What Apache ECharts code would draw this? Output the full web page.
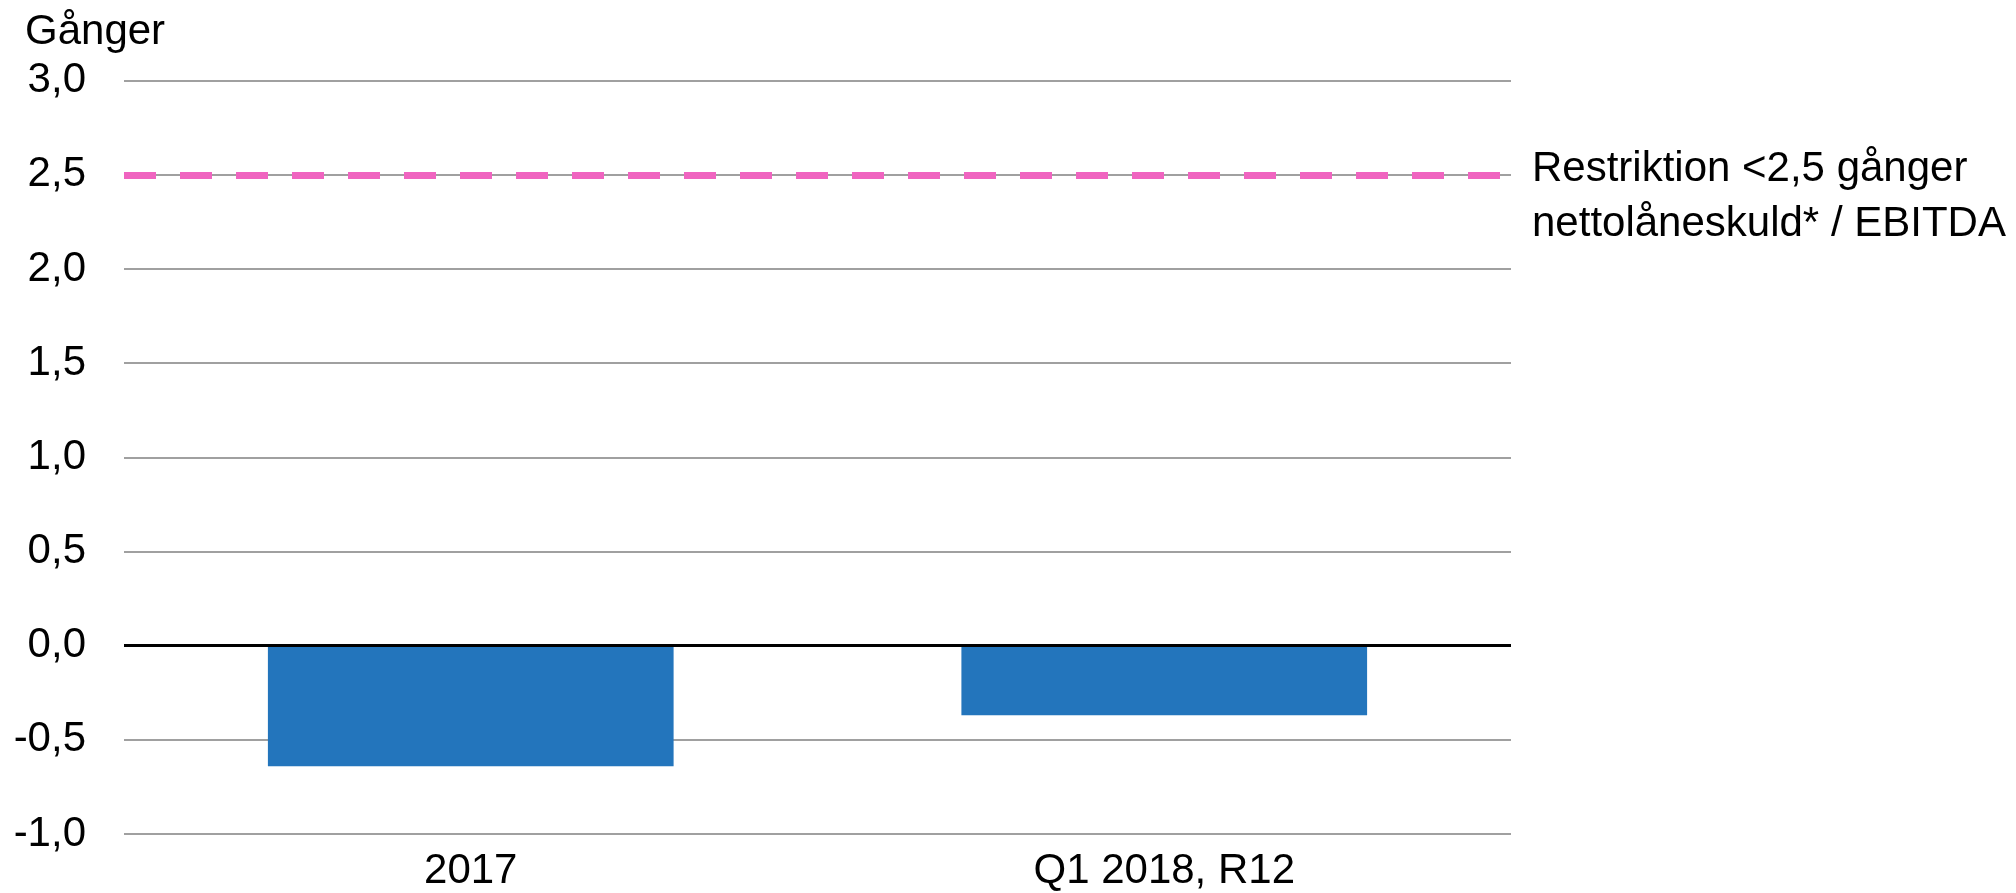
<!DOCTYPE html>
<html>
<head>
<meta charset="utf-8">
<script src="https://cdn.jsdelivr.net/npm/echarts@6/dist/echarts.min.js"></script>
<style>
html,body{margin:0;padding:0;background:#fff;}
#chart{width:2016px;height:893px;}
</style>
</head>
<body>
<div id="chart"></div>
<script>
// Data
const categories = ['2017', 'Q1 2018, R12'];
const ratioValues = [-0.64, -0.37];
const restrictionLevel = 2.5;
const yAxisName = 'Gånger';
const restrictionLabel = ['Restriktion <2,5 gånger', 'nettolåneskuld* / EBITDA'];
const yMin = -1, yMax = 3, yStep = 0.5;

const FONT = "'Liberation Sans', Arial, sans-serif";
const FS = 42;
const chart = echarts.init(document.getElementById('chart'), null, {renderer: 'canvas'});

chart.setOption({
  animation: false,
  backgroundColor: '#ffffff',
  grid: {left: 124, top: 80.7, width: 1387, height: 753.3, containLabel: false, outerBoundsMode: 'none'},
  xAxis: {
    type: 'category',
    data: categories,
    axisLine: {show: false, onZero: false},
    axisTick: {show: false},
    axisLabel: {color: '#000', fontSize: FS, fontFamily: FONT, margin: 16}
  },
  yAxis: {
    type: 'value',
    min: yMin, max: yMax, interval: yStep,
    axisLine: {show: false},
    axisTick: {show: false},
    splitLine: {lineStyle: {color: '#A0A0A0', width: 2}},
    axisLabel: {
      color: '#000', fontSize: FS, fontFamily: FONT, margin: 38,
      formatter: v => v.toFixed(1).replace('.', ',')
    }
  },
  series: [{
    type: 'bar',
    data: ratioValues,
    barWidth: '58.5%',
    itemStyle: {color: '#2375BC'},
    markLine: {
      silent: true,
      symbol: 'none',
      label: {show: false},
      data: [
        {yAxis: 0, lineStyle: {color: '#000', width: 3, type: 'solid'}},
        {yAxis: restrictionLevel, lineStyle: {color: '#F064C0', width: 7, type: [32, 24]}}
      ]
    }
  }],
  graphic: [
    {type: 'text', left: 25, top: 11, style: {text: yAxisName, fontSize: FS, fontFamily: FONT, fill: '#000'}},
    {type: 'text', left: 1532, top: 142, style: {text: restrictionLabel.join('\n'), fontSize: FS, lineHeight: 55, fontFamily: FONT, fill: '#000'}}
  ]
});
</script>
</body>
</html>
